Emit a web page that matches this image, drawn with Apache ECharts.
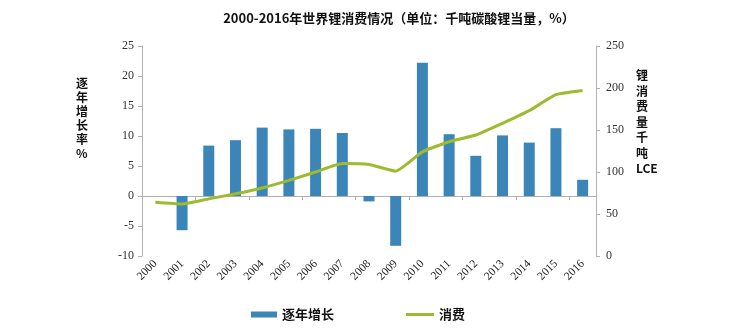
<!DOCTYPE html>
<html><head><meta charset="utf-8">
<script src="https://cdn.jsdelivr.net/npm/echarts@6/dist/echarts.min.js"></script>
<style>html,body{margin:0;padding:0;background:#fff}#c{width:736px;height:333px}</style>
</head><body><div id="c"></div>
<script>
const years = ['2000','2001','2002','2003','2004','2005','2006','2007','2008','2009','2010','2011','2012','2013','2014','2015','2016'];
const growth = [null,-5.7,8.4,9.3,11.4,11.1,11.2,10.5,-0.9,-8.3,22.2,10.3,6.7,10.1,8.9,11.3,2.7];
const consumption = [64,62,68,74,81,90,100,110,109,101,124,136,144,158,173,192,197];
const leftTicks = {min:-10, max:25, interval:5};
const rightTicks = {min:0, max:250, interval:50};
const titleText = '2000-2016年世界锂消费情况（单位：千吨碳酸锂当量，%）';
const serif = '"Liberation Serif","DejaVu Serif",serif';
const cjk = '"Noto Sans CJK SC",sans-serif';
const legendText = {fontSize:13,fontWeight:'bold',color:'#111',fontFamily:cjk};
const chart = echarts.init(document.getElementById('c'));
chart.setOption({
  animation:false,
  title:{text:titleText,left:394,textAlign:'center',top:7,textStyle:{fontSize:13,fontWeight:'bold',color:'#111',fontFamily:cjk}},
  grid:{left:142,right:140,top:46,bottom:77},
  legend:[
    {top:303,left:246,itemWidth:26,itemHeight:6,itemGap:6,textStyle:legendText,
     data:[{name:'逐年增长',icon:'rect'}]},
    {top:303,left:401,itemWidth:28,itemHeight:3,itemGap:6,textStyle:legendText,
     data:[{name:'消费',icon:'rect'}]}
  ],
  xAxis:[
    {type:'category',data:years,position:'bottom',axisLine:{show:false,onZero:false},axisTick:{show:false},
     axisLabel:{rotate:45,fontSize:11.5,color:'#222',fontFamily:serif,margin:6,interval:0}},
    {type:'category',data:years,position:'bottom',axisLine:{show:true,onZero:true,onZeroAxisIndex:0,lineStyle:{color:'#b0b0b0'}},
     axisTick:{show:true,length:4,lineStyle:{color:'#b0b0b0'}},axisLabel:{show:false}}
  ],
  yAxis:[
    {type:'value',min:leftTicks.min,max:leftTicks.max,interval:leftTicks.interval,position:'left',
     axisLine:{show:true,lineStyle:{color:'#b0b0b0'}},axisTick:{show:true,length:4,lineStyle:{color:'#b0b0b0'}},
     splitLine:{show:false},axisLabel:{fontSize:12,color:'#333',fontFamily:serif,margin:8}},
    {type:'value',min:rightTicks.min,max:rightTicks.max,interval:rightTicks.interval,position:'right',
     axisLine:{show:true,lineStyle:{color:'#b0b0b0'}},axisTick:{show:true,length:4,lineStyle:{color:'#b0b0b0'}},
     splitLine:{show:false},axisLabel:{fontSize:12,color:'#333',fontFamily:serif,margin:10}}
  ],
  graphic:[
    {type:'text',left:76,top:76,style:{text:'逐\n年\n增\n长\n率\n%',font:'bold 12px '+cjk,lineHeight:14,fill:'#111'}},
    {type:'text',left:636,top:68,style:{text:'锂\n消\n费\n量\n千\n吨\nLCE',font:'bold 12px '+cjk,lineHeight:15.5,fill:'#111'}}
  ],
  series:[
    {name:'逐年增长',type:'bar',xAxisIndex:0,yAxisIndex:0,data:growth,barWidth:11,
     itemStyle:{color:'#3c85b8'}},
    {name:'消费',type:'line',xAxisIndex:0,yAxisIndex:1,data:consumption,symbol:'none',smooth:0.15,
     lineStyle:{color:'#9cbb2e',width:3},itemStyle:{color:'#9cbb2e'}}
  ]
});
</script></body></html>
